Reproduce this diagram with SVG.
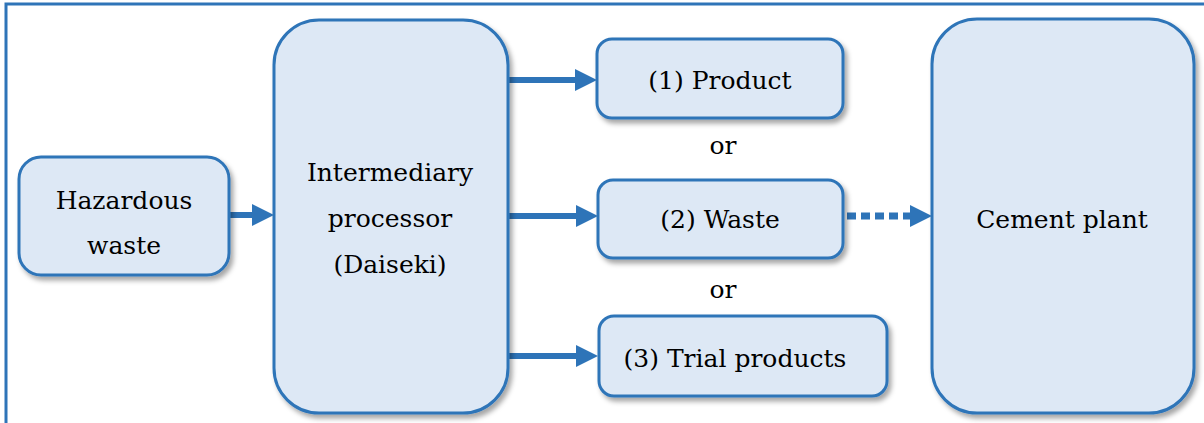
<svg xmlns="http://www.w3.org/2000/svg" width="1204" height="423" viewBox="0 0 1204 423">
  <style>
    .box { fill: #dde8f5; stroke: #2e74b8; stroke-width: 3; filter: url(#shadow); }
    .lbl { font-family: 'DejaVu Serif', 'Liberation Serif', serif; font-size: 25px; fill: #000; text-anchor: middle; }
    .conn { stroke: #2e74b8; stroke-width: 6; fill: none; marker-end: url(#head); }
    .dot { stroke-dasharray: 9 5; stroke-width: 7; }
  </style>
  <defs>
    <filter id="shadow" x="-10%" y="-10%" width="130%" height="130%">
      <feDropShadow dx="3" dy="4" stdDeviation="2.5" flood-color="#000" flood-opacity="0.35"/>
    </filter>
    <marker id="head" viewBox="0 0 22 22" refX="0" refY="11" markerWidth="22" markerHeight="22" markerUnits="userSpaceOnUse" orient="auto">
      <path d="M0,0 L22,11 L0,22 z" fill="#2e74b8"/>
    </marker>
  </defs>
  <rect x="6" y="4" width="1220" height="440" fill="#fff" stroke="#2e74b8" stroke-width="3"/>

  <g id="connectors">
    <line class="conn" x1="229" y1="215" x2="252" y2="215"/>
    <line class="conn" x1="508" y1="80" x2="575" y2="80"/>
    <line class="conn" x1="508" y1="216" x2="576" y2="216"/>
    <line class="conn" x1="508" y1="356" x2="576" y2="356"/>
    <line class="conn dot" x1="847" y1="216" x2="910" y2="216"/>
  </g>

  <g id="hazardous-waste">
    <rect class="box" x="19" y="157" width="210" height="118" rx="22"/>
    <text class="lbl" x="124" y="209">Hazardous</text>
    <text class="lbl" x="124" y="254">waste</text>
  </g>
  <g id="intermediary">
    <rect class="box" x="274" y="20" width="234" height="393" rx="45"/>
    <text class="lbl" x="390" y="181">Intermediary</text>
    <text class="lbl" x="390" y="227">processor</text>
    <text class="lbl" x="390" y="273">(Daiseki)</text>
  </g>
  <g id="product">
    <rect class="box" x="597" y="39" width="246" height="79" rx="15"/>
    <text class="lbl" x="720" y="89">(1) Product</text>
  </g>
  <g id="or1"><text class="lbl" x="723" y="154">or</text></g>
  <g id="waste">
    <rect class="box" x="598" y="180" width="245" height="78" rx="15"/>
    <text class="lbl" x="720" y="228">(2) Waste</text>
  </g>
  <g id="or2"><text class="lbl" x="723" y="298">or</text></g>
  <g id="trial">
    <rect class="box" x="599" y="316" width="288" height="80" rx="15"/>
    <text class="lbl" x="735" y="367">(3) Trial products</text>
  </g>
  <g id="cement">
    <rect class="box" x="932" y="19" width="262" height="394" rx="45"/>
    <text class="lbl" x="1062" y="228">Cement plant</text>
  </g>
</svg>
